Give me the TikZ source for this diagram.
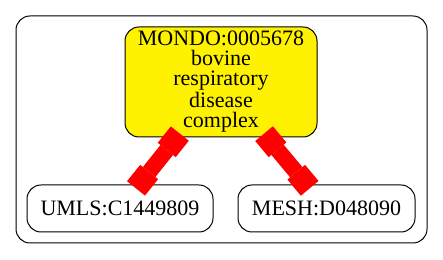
\documentclass[tikz,border=0pt]{standalone}
\usepackage{fontspec}
\setmainfont{Liberation Serif}
\usetikzlibrary{arrows.meta}

\begin{document}
\begin{tikzpicture}[
    x=0.5pt, y=-0.5pt,
    term/.style={draw, rounded corners=7pt, line width=0.5pt, inner sep=0pt, align=center, font=\fontsize{11}{10}\selectfont},
    link/.style={draw=red, line width=8pt, shorten <=-2.5pt, shorten >=-2.5pt,
        {Rectangle[length=10.5pt, width=11.5pt, line width=0pt]}-{Rectangle[length=10.5pt, width=11.5pt, line width=0pt]}}
]
\useasboundingbox (0,0) rectangle (443,260);
\draw[rounded corners=7pt, line width=0.5pt] (16,16) rectangle (427,243);

\node[term, fill=yellow, minimum width=96pt, minimum height=55pt] (mondo) at (221,82) {
    MONDO:0005678\\
    bovine\\
    respiratory\\
    disease\\
    complex
};

\node[term, minimum width=93pt, minimum height=23.5pt] (umls) at (120,208.5) {UMLS:C1449809};
\node[term, minimum width=88.5pt, minimum height=23.5pt] (mesh) at (326.5,208.5) {MESH:D048090};

\draw[link] (mondo) -- (umls);
\draw[link] (mondo) -- (mesh);
\end{tikzpicture}
\end{document}
